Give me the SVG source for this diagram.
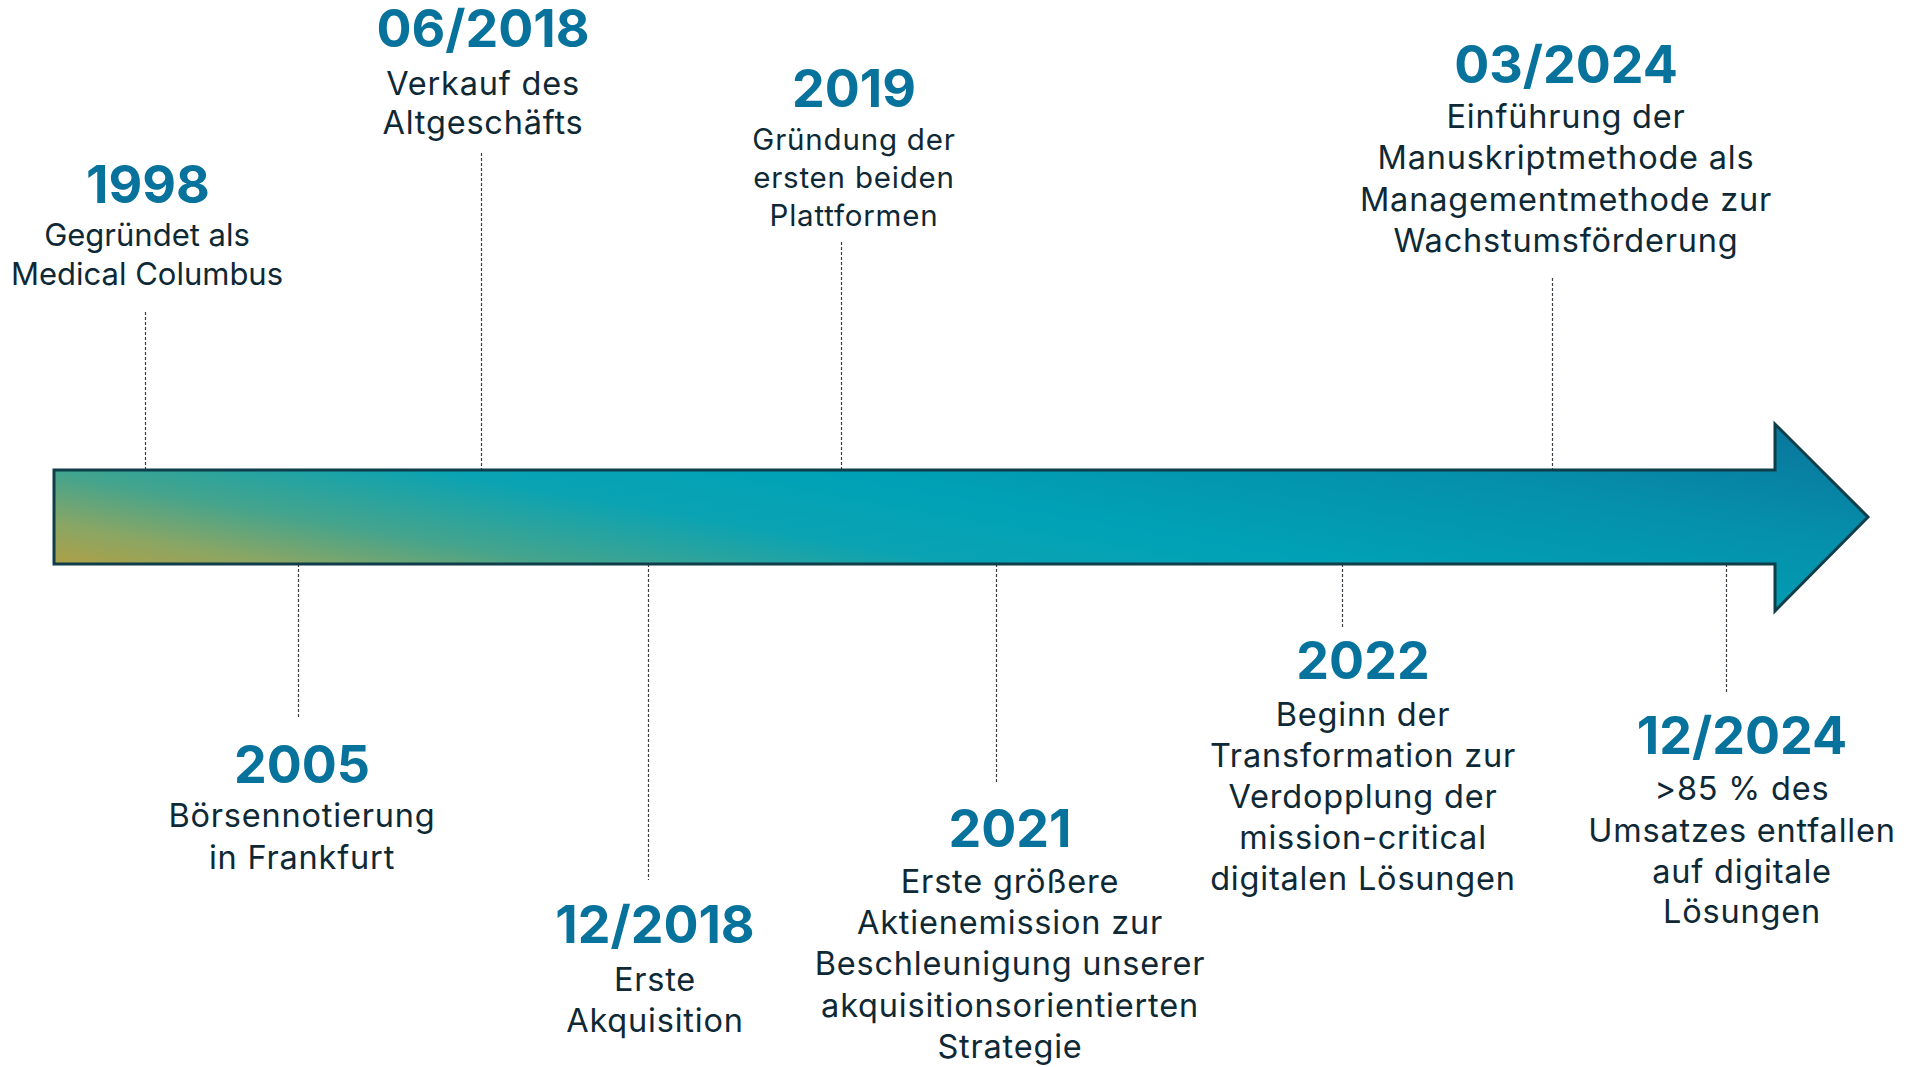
<svg xmlns="http://www.w3.org/2000/svg" width="1919" height="1067" viewBox="0 0 1919 1067">
<style>
.yr{font-family:Inter,"Open Sans","Liberation Sans",sans-serif;font-weight:700;font-size:52px;fill:#07729b;text-anchor:middle}
.tx{font-family:Inter,"Open Sans","Liberation Sans",sans-serif;font-weight:400;font-size:32.5px;letter-spacing:0.8px;fill:#0e2935;text-anchor:middle}
.a{font-size:31px;letter-spacing:0}
.sm{font-size:29.5px}
.dl{stroke:#3a3f44;stroke-width:1.2;stroke-dasharray:3 2;fill:none}
</style>
<defs>
<linearGradient id="g" gradientUnits="userSpaceOnUse" x1="54" y1="564" x2="131" y2="130">
<stop offset="0" stop-color="#aea046"/>
<stop offset="0.09" stop-color="#8aa664"/>
<stop offset="0.2" stop-color="#45a48c"/>
<stop offset="0.36" stop-color="#0aa3b3"/>
<stop offset="0.5" stop-color="#00a2b6"/>
<stop offset="0.75" stop-color="#0590ab"/>
<stop offset="1" stop-color="#0a769c"/>
</linearGradient>
</defs>
<rect width="1919" height="1067" fill="#fff"/>
<g id="connectors">
<line class="dl" x1="145.5" y1="312" x2="145.5" y2="470"/>
<line class="dl" x1="481.5" y1="153" x2="481.5" y2="470"/>
<line class="dl" x1="841.5" y1="242" x2="841.5" y2="470"/>
<line class="dl" x1="1552.5" y1="278" x2="1552.5" y2="470"/>
<line class="dl" x1="298.5" y1="564" x2="298.5" y2="718"/>
<line class="dl" x1="648.5" y1="564" x2="648.5" y2="880"/>
<line class="dl" x1="996.5" y1="564" x2="996.5" y2="783"/>
<line class="dl" x1="1342.5" y1="564" x2="1342.5" y2="628"/>
<line class="dl" x1="1726.5" y1="564" x2="1726.5" y2="692"/>
</g>
<g id="timeline-arrow">
<path d="M54,470 L1775,470 L1775,424 L1868,517 L1775,611 L1775,564 L54,564 Z" fill="url(#g)" stroke="#0f3d49" stroke-width="3" stroke-linejoin="miter"/>
</g>
<g id="n1998">
<text class="yr" x="148" y="203">1998</text>
<text class="tx a" x="147" y="246">Gegründet als</text>
<text class="tx a" x="147" y="285">Medical Columbus</text>
</g>
<g id="n062018">
<text class="yr" x="483" y="47">06/2018</text>
<text class="tx" x="483" y="95">Verkauf des</text>
<text class="tx" x="483" y="134">Altgeschäfts</text>
</g>
<g id="n2019">
<text class="yr" x="854" y="107">2019</text>
<text class="tx sm" x="854" y="150">Gründung der</text>
<text class="tx sm" x="854" y="188">ersten beiden</text>
<text class="tx sm" x="854" y="226">Plattformen</text>
</g>
<g id="n032024">
<text class="yr" x="1566" y="83">03/2024</text>
<text class="tx" x="1566" y="128">Einführung der</text>
<text class="tx" x="1566" y="169">Manuskriptmethode als</text>
<text class="tx" x="1566" y="211">Managementmethode zur</text>
<text class="tx" x="1566" y="252">Wachstumsförderung</text>
</g>
<g id="n2005">
<text class="yr" x="302" y="783">2005</text>
<text class="tx" x="302" y="827">Börsennotierung</text>
<text class="tx" x="302" y="869">in Frankfurt</text>
</g>
<g id="n122018">
<text class="yr" x="655" y="943">12/2018</text>
<text class="tx" x="655" y="991">Erste</text>
<text class="tx" x="655" y="1032">Akquisition</text>
</g>
<g id="n2021">
<text class="yr" x="1010" y="847">2021</text>
<text class="tx" x="1010" y="893">Erste größere</text>
<text class="tx" x="1010" y="934">Aktienemission zur</text>
<text class="tx" x="1010" y="975">Beschleunigung unserer</text>
<text class="tx" x="1010" y="1017">akquisitionsorientierten</text>
<text class="tx" x="1010" y="1058">Strategie</text>
</g>
<g id="n2022">
<text class="yr" x="1363" y="679">2022</text>
<text class="tx" x="1363" y="726">Beginn der</text>
<text class="tx" x="1363" y="767">Transformation zur</text>
<text class="tx" x="1363" y="808">Verdopplung der</text>
<text class="tx" x="1363" y="849">mission-critical</text>
<text class="tx" x="1363" y="890">digitalen Lösungen</text>
</g>
<g id="n122024">
<text class="yr" x="1742" y="754">12/2024</text>
<text class="tx" x="1742" y="800">&gt;85 % des</text>
<text class="tx" x="1742" y="842">Umsatzes entfallen</text>
<text class="tx" x="1742" y="883">auf digitale</text>
<text class="tx" x="1742" y="923">Lösungen</text>
</g>
</svg>
